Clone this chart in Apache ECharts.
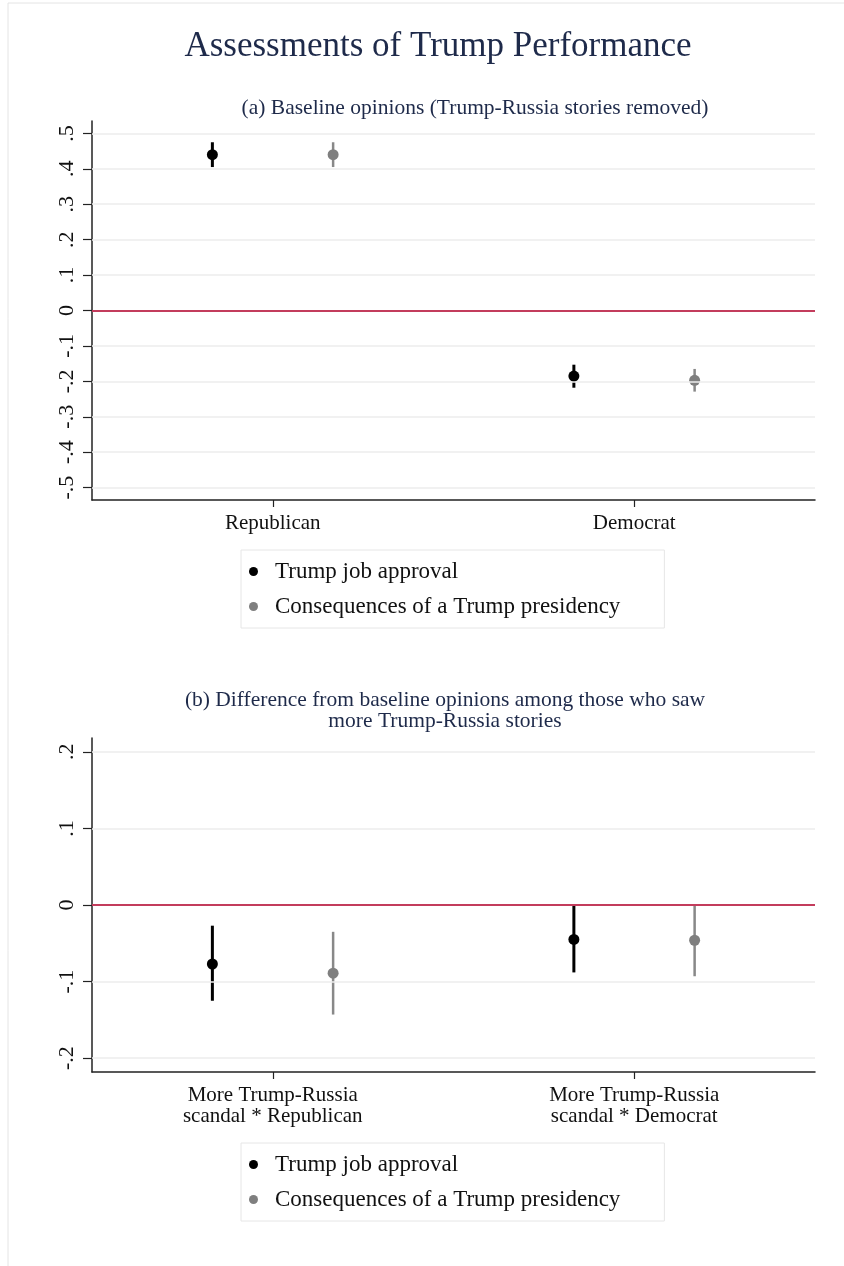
<!DOCTYPE html>
<html>
<head>
<meta charset="utf-8">
<script src="https://cdn.jsdelivr.net/npm/echarts@6/dist/echarts.min.js"></script>
<style>
  html, body { margin: 0; padding: 0; background: #fff; }
  #chart { width: 844px; height: 1266px; }
</style>
</head>
<body>
<div id="chart"></div>
<script>
// panel (a) baseline opinions
const groupsA = ['Republican', 'Democrat']
const approvalA = [0.44, -0.185]
const approvalALo = [0.405, -0.218]
const approvalAHi = [0.475, -0.153]
const consequencesA = [0.44, -0.197]
const consequencesALo = [0.405, -0.229]
const consequencesAHi = [0.475, -0.165]
const ticksA = [-0.5, -0.4, -0.3, -0.2, -0.1, 0, 0.1, 0.2, 0.3, 0.4, 0.5]

// panel (b) difference among those who saw more stories
const groupsB = ['More Trump-Russia\nscandal * Republican', 'More Trump-Russia\nscandal * Democrat']
const approvalB = [-0.077, -0.045]
const approvalBLo = [-0.125, -0.088]
const approvalBHi = [-0.027, 0.0]
const consequencesB = [-0.089, -0.046]
const consequencesBLo = [-0.143, -0.093]
const consequencesBHi = [-0.035, 0.0]
const ticksB = [-0.2, -0.1, 0, 0.1, 0.2]

const seriesNames = ['Trump job approval', 'Consequences of a Trump presidency']

const SERIF = '"Liberation Serif", "Times New Roman", serif'
const NAVY = '#1e2a4a'
const BLACK = '#000000'
const GREY = '#7f7f7f'
const OFFSET = 0.167 // dodge of the two estimates around each group

const chart = echarts.init(document.getElementById('chart'))

// stata style tick labels: .5, -.1, 0
const stataNum = v => {
  const r = Math.round(v * 10) / 10
  if (r === 0) return '0'
  return String(r).replace('0.', '.')
}

const xAxisFor = (idx, groups, margin) => ({
  type: 'value',
  gridIndex: idx,
  min: 0.5,
  max: 2.5,
  splitLine: { show: false },
  axisLine: { onZero: false, lineStyle: { color: '#222', width: 1.5 } },
  axisTick: {
    customValues: [1, 2],
    length: 7,
    lineStyle: { color: '#222', width: 1.2 },
  },
  axisLabel: {
    customValues: [1, 2],
    margin: margin,
    formatter: v => groups[Math.round(v) - 1],
    fontFamily: SERIF,
    fontSize: 21,
    lineHeight: 21,
    color: '#111',
  },
})

const yAxisFor = (idx, lim, ticks) => ({
  type: 'value',
  gridIndex: idx,
  min: -lim,
  max: lim,
  splitLine: { show: false },
  axisLine: { show: true, onZero: false, lineStyle: { color: '#222', width: 1.5 } },
  axisTick: {
    show: true,
    customValues: ticks,
    length: 9,
    lineStyle: { color: '#222', width: 1.2 },
  },
  axisLabel: {
    customValues: ticks,
    rotate: 90,
    margin: 14,
    formatter: stataNum,
    fontFamily: SERIF,
    fontSize: 22,
    color: '#111',
  },
})

// error bar as a vertical segment through library coords
const errorBars = (idx, pos, lo, hi, color, width) => ({
  type: 'custom',
  xAxisIndex: idx,
  yAxisIndex: idx,
  silent: true,
  z: 3,
  data: lo.map((l, i) => [i + 1 + pos, l, hi[i]]),
  encode: { x: 0, y: [1, 2] },
  renderItem: (params, api) => {
    const a = api.coord([api.value(0), api.value(1)])
    const b = api.coord([api.value(0), api.value(2)])
    return {
      type: 'line',
      shape: { x1: a[0], y1: a[1], x2: b[0], y2: b[1] },
      style: { stroke: color, lineWidth: width },
    }
  },
})

const points = (idx, name, pos, vals, color, size) => ({
  type: 'scatter',
  name: name,
  xAxisIndex: idx,
  yAxisIndex: idx,
  z: 4,
  symbol: 'circle',
  symbolSize: size,
  itemStyle: { color: color, opacity: 1 },
  data: vals.map((v, i) => [i + 1 + pos, v]),
})

// light grid lines + red reference line at zero
const refLines = (idx, ticks) => [
  {
    type: 'line',
    xAxisIndex: idx,
    yAxisIndex: idx,
    data: [],
    silent: true,
    z: 1,
    markLine: {
      silent: true,
      symbol: ['none', 'none'],
      label: { show: false },
      lineStyle: { color: '#ececec', width: 1.5, type: 'solid' },
      data: ticks.filter(t => t !== 0).map(t => ({ yAxis: t })),
    },
  },
  {
    type: 'line',
    xAxisIndex: idx,
    yAxisIndex: idx,
    data: [],
    silent: true,
    z: 2,
    markLine: {
      silent: true,
      symbol: ['none', 'none'],
      label: { show: false },
      lineStyle: { color: '#c33c5c', width: 2, type: 'solid' },
      data: [{ yAxis: 0 }],
    },
  },
]

const legendFor = top => ({
  orient: 'vertical',
  left: 241,
  top: top,
  data: seriesNames,
  icon: 'circle',
  itemWidth: 9,
  itemHeight: 9,
  itemGap: 12,
  padding: [10, 44, 10, 8],
  borderColor: '#e6e6e6',
  borderWidth: 1,
  textStyle: {
    fontFamily: SERIF,
    fontSize: 23,
    color: '#111',
    padding: [0, 0, 0, 12],
  },
})

const option = {
  backgroundColor: '#ffffff',
  animation: false,
  title: [
    {
      text: 'Assessments of Trump Performance',
      left: 433,
      textAlign: 'center',
      top: 24,
      textStyle: { fontFamily: SERIF, fontSize: 35, fontWeight: 'normal', color: NAVY },
    },
    {
      text: '(a) Baseline opinions (Trump-Russia stories removed)',
      left: 470,
      textAlign: 'center',
      top: 92,
      textStyle: { fontFamily: SERIF, fontSize: 21.5, fontWeight: 'normal', color: NAVY },
    },
    {
      text: '(b) Difference from baseline opinions among those who saw\nmore Trump-Russia stories',
      left: 440,
      textAlign: 'center',
      top: 685,
      textStyle: { fontFamily: SERIF, fontSize: 21.5, lineHeight: 21, fontWeight: 'normal', color: NAVY },
    },
  ],
  legend: [legendFor(550), legendFor(1143)],
  grid: [
    { left: 92, right: 29, top: 121, height: 379 },
    { left: 92, right: 29, top: 738, height: 334 },
  ],
  xAxis: [xAxisFor(0, groupsA, 13), xAxisFor(1, groupsB, 13)],
  yAxis: [yAxisFor(0, 0.535, ticksA), yAxisFor(1, 0.218, ticksB)],
  graphic: [
    {
      type: 'polyline',
      silent: true,
      shape: { points: [[8, 1266], [8, 3], [844, 3]] },
      style: { stroke: '#e4e4e4', lineWidth: 1, fill: null },
    },
  ],
  series: [
    ...refLines(0, ticksA),
    ...refLines(1, ticksB),
    errorBars(0, -OFFSET, approvalALo, approvalAHi, BLACK, 3),
    errorBars(0, OFFSET, consequencesALo, consequencesAHi, '#888888', 2.5),
    points(0, seriesNames[0], -OFFSET, approvalA, BLACK, 11),
    points(0, seriesNames[1], OFFSET, consequencesA, GREY, 11),
    errorBars(1, -OFFSET, approvalBLo, approvalBHi, BLACK, 3),
    errorBars(1, OFFSET, consequencesBLo, consequencesBHi, '#888888', 2.5),
    points(1, seriesNames[0], -OFFSET, approvalB, BLACK, 11),
    points(1, seriesNames[1], OFFSET, consequencesB, GREY, 11),
  ],
}

chart.setOption(option)
</script>
</body>
</html>
